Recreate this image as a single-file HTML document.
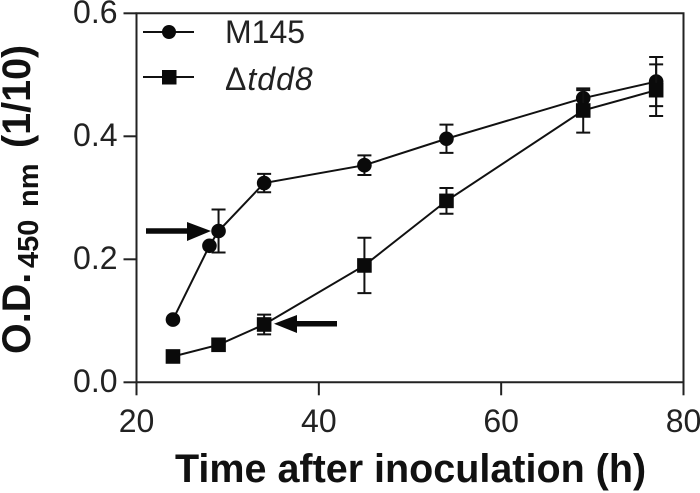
<!DOCTYPE html>
<html>
<head>
<meta charset="utf-8">
<style>
html,body{margin:0;padding:0;background:#fff;width:700px;height:493px;overflow:hidden}
svg{display:block;font-family:"Liberation Sans",sans-serif}
</style>
</head>
<body>
<svg id="chart" width="700" height="493" viewBox="0 0 700 493" xmlns="http://www.w3.org/2000/svg">
  <rect x="0" y="0" width="700" height="493" fill="#fff"/>
  <g id="axes"></g>
  <g id="series"></g>
  <g>
    <g>
      <line x1="143" y1="32" x2="194" y2="32" stroke="#111" stroke-width="2"/>
      <circle cx="169" cy="32" r="7" fill="#0a0a0a"/>
      <text x="225" y="43" font-size="32" fill="#222">M145</text>
    </g>
    <g>
      <line x1="143" y1="77" x2="194" y2="77" stroke="#111" stroke-width="2"/>
      <rect x="162" y="70" width="14.5" height="14.5" fill="#0a0a0a"/>
      <text x="225" y="90" font-size="32" letter-spacing="1" fill="#222"><tspan>Δ</tspan><tspan font-style="italic">tdd8</tspan></text>
    </g>
  </g>
  <g>
    <line x1="146" y1="231" x2="190" y2="231" stroke="#0a0a0a" stroke-width="5.5"/>
    <polygon points="187,222 211,231 187,241" fill="#0a0a0a"/>
  </g>
  <g>
    <line x1="337" y1="323.7" x2="294" y2="323.7" stroke="#0a0a0a" stroke-width="5.5"/>
    <polygon points="297,315 274,323.7 297,333" fill="#0a0a0a"/>
  </g>
  <text x="175" y="482" font-size="39.5" font-weight="bold" fill="#111">Time after inoculation (h)</text>
  <text transform="translate(30,354) rotate(-90)" font-size="39.5" font-weight="bold" fill="#111"><tspan x="0" y="0">O.D.</tspan><tspan x="86" y="8" font-size="29">450</tspan><tspan x="147" y="8" font-size="29">nm</tspan><tspan x="206" y="0">(1/10)</tspan></text>
</svg>
<script>
var xTicks = [20, 40, 60, 80];
var yTicks = [0.0, 0.2, 0.4, 0.6];
var m145Times = [24, 28, 29, 34, 45, 54, 69, 77];
var m145Values = [0.102, 0.222, 0.246, 0.324, 0.353, 0.396, 0.462, 0.489];
var m145Errors = [0, 0, 0.035, 0.015, 0.016, 0.023, 0.013, 0.040];
var tdd8Times = [24, 29, 34, 45, 54, 69, 77];
var tdd8Values = [0.042, 0.061, 0.094, 0.190, 0.295, 0.442, 0.475];
var tdd8Errors = [0, 0, 0.016, 0.045, 0.021, 0.036, 0.042];

var NS = 'http://www.w3.org/2000/svg';
var X0 = 136.5, X1 = 683.5, Y0 = 382.3, Y1 = 13.3;
function xScale(v) { return X0 + (v - 20) / 60 * (X1 - X0); }
function yScale(v) { return Y0 - v / 0.6 * (Y0 - Y1); }
function make(parent, tag, attrs) {
  var el = document.createElementNS(NS, tag);
  for (var k in attrs) { el.setAttribute(k, attrs[k]); }
  parent.appendChild(el);
  return el;
}
var axes = document.getElementById('axes');
var seriesGroup = document.getElementById('series');
var AXIS = '#222';

var frame = make(axes, 'path', {d: 'M' + X0 + ' ' + Y0 + 'V' + Y1 + 'H' + X1 + 'V' + Y0 + 'Z', fill: 'none', stroke: AXIS, 'stroke-width': 2});



xTicks.forEach(function (t) {
  var tick = make(axes, 'line', {x1: xScale(t), x2: xScale(t), y1: Y0, y2: Y0 + 13, stroke: AXIS, 'stroke-width': 2});
  
  
  var label = make(axes, 'text', {x: xScale(t), y: 432, 'font-size': 32, 'text-anchor': 'middle', fill: '#222'});
  label.textContent = String(t);
  
  
});
yTicks.forEach(function (t) {
  var tick = make(axes, 'line', {x1: X0 - 13, x2: X0, y1: yScale(t), y2: yScale(t), stroke: AXIS, 'stroke-width': 2});
  
  
  var label = make(axes, 'text', {x: 117.5, y: yScale(t) + 9.5, 'font-size': 32, 'text-anchor': 'end', fill: '#222'});
  label.textContent = t.toFixed(1);
  
  
});

function drawSeries(times, values, errors, name, shape) {
  var g = make(seriesGroup, 'g', {});
  
  
  var pts = times.map(function (t, i) { return xScale(t) + ',' + yScale(values[i]); }).join(' ');
  var line = make(g, 'polyline', {points: pts, fill: 'none', stroke: '#111', 'stroke-width': 2});
  
  
  times.forEach(function (t, i) {
    var x = xScale(t);
    var top = yScale(values[i] + errors[i]);
    var bottom = yScale(values[i] - errors[i]);
    if (errors[i] > 0) {
      var bar = make(g, 'path', {
        d: 'M' + (x - 7) + ' ' + top + 'H' + (x + 7) + 'M' + x + ' ' + top + 'V' + bottom + 'M' + (x - 7) + ' ' + bottom + 'H' + (x + 7),
        fill: 'none', stroke: '#111', 'stroke-width': 2
      });
      
      
    }
    var mark;
    if (shape === 'circle') {
      mark = make(g, 'circle', {cx: x, cy: yScale(values[i]), r: 7.3, fill: '#0a0a0a'});
    } else {
      mark = make(g, 'rect', {x: x - 7.3, y: yScale(values[i]) - 7.3, width: 14.6, height: 14.6, fill: '#0a0a0a'});
    }
    
    
  });
}
drawSeries(m145Times, m145Values, m145Errors, 'm145', 'circle');
drawSeries(tdd8Times, tdd8Values, tdd8Errors, 'tdd8', 'square');
</script>
</body>
</html>
